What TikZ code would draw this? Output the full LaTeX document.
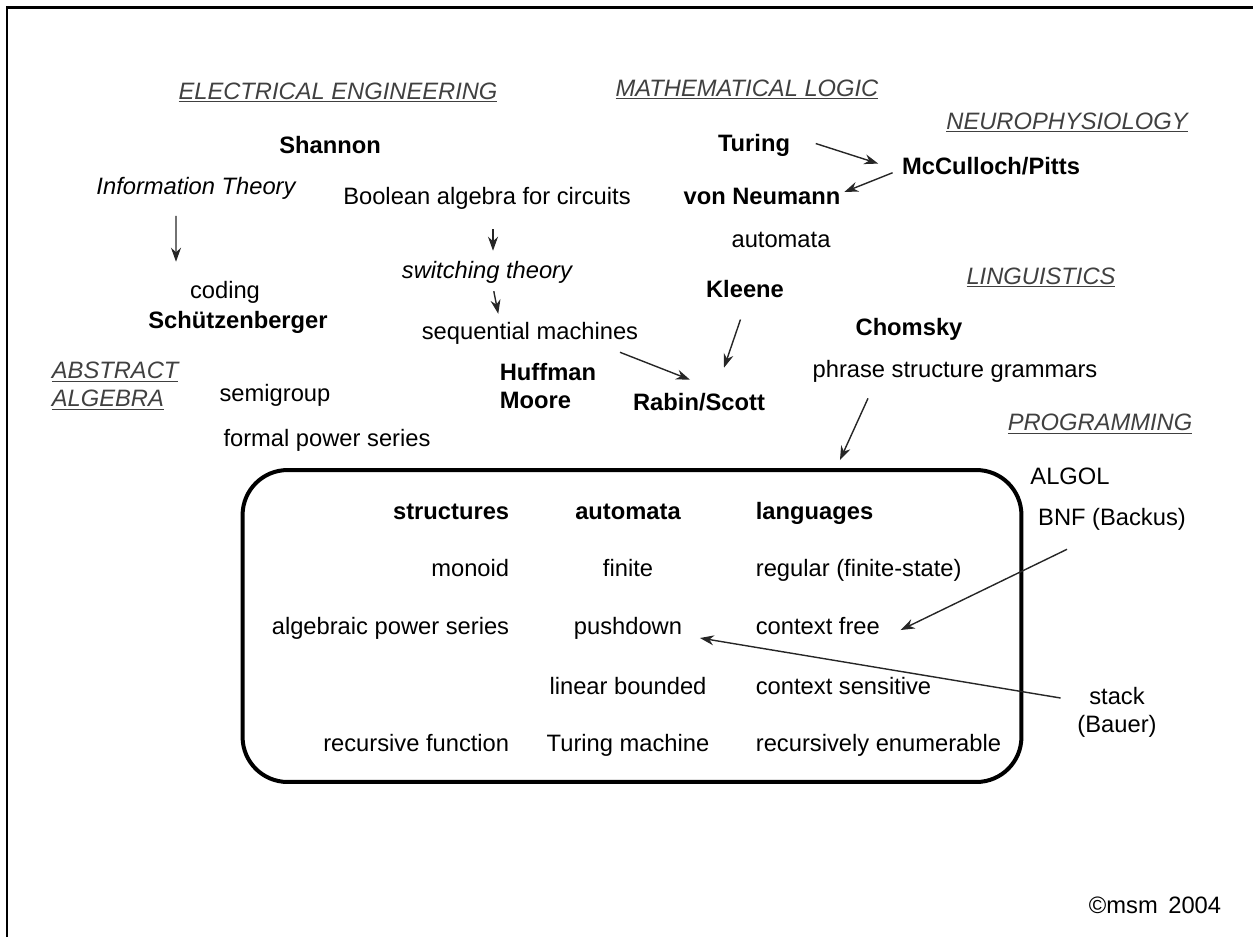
\documentclass[tikz,border=0pt]{standalone}
\usepackage{fontspec}
\setmainfont{Liberation Sans}
\usetikzlibrary{arrows.meta}

\begin{document}
\begin{tikzpicture}[x=0.02cm, y=-0.02cm,
    every node/.style={font=\fontsize{13.5}{16}\selectfont, inner sep=2pt, text height=10pt, text depth=3pt},
    twoline/.style={text height=, text depth=, align=left},
    field/.style={font=\fontsize{13.5}{16}\selectfont\itshape, text=black!75},
    person/.style={font=\fontsize{13.5}{16}\selectfont\bfseries},
    head/.style={font=\fontsize{13.5}{16}\selectfont\bfseries},
    arr/.style={-{Stealth[length=2.8mm, width=2mm]}, line width=0.8pt, draw=black!85}
]
\useasboundingbox (0,0) rectangle (1253,937);
\draw[line width=0.06cm] (7,937) -- (7,7) -- (1253,7);

% fields
\node[field] (ee)   at (338,93)  {\underline{ELECTRICAL ENGINEERING}};
\node[field] (ml)   at (747,90)  {\underline{MATHEMATICAL LOGIC}};
\node[field] (np)   at (1067,123) {\underline{NEUROPHYSIOLOGY}};
\node[field] (ling) at (1041,278) {\underline{LINGUISTICS}};
\node[field] (prog) at (1100,424) {\underline{PROGRAMMING}};
\node[field, twoline, anchor=west] (aa) at (48,386) {\underline{ABSTRACT}\\\underline{ALGEBRA}};

% people
\node[person] (shannon) at (330,147) {Shannon};
\node[person] (turing)  at (754,145) {Turing};
\node[person] (mcc)     at (991,168) {McCulloch/Pitts};
\node[person] (vonn)    at (762,198) {von Neumann};
\node[person] (kleene)  at (745,291) {Kleene};
\node[person] (schutz)  at (238,322) {Schützenberger};
\node[person] (chomsky) at (909,329) {Chomsky};
\node[person, twoline, anchor=west] (huffman) at (496,386) {Huffman\\Moore};
\node[person] (rabin)   at (699,404) {Rabin/Scott};

% topics
\node[font=\fontsize{13.5}{16}\selectfont\itshape] (infot) at (196,188) {Information Theory};
\node (boolean)   at (487,198) {Boolean algebra for circuits};
\node (automata)  at (781,241) {automata};
\node[font=\fontsize{13.5}{16}\selectfont\itshape] (switching) at (487,272) {switching theory};
\node (coding)    at (225,292) {coding};
\node (seqm)      at (530,333) {sequential machines};
\node (phrase)    at (955,371) {phrase structure grammars};
\node (semigroup) at (275,395) {semigroup};
\node (fps)       at (327,440) {formal power series};
\node (algol)     at (1070,478) {ALGOL};
\node (bnf)       at (1112,519) {BNF (Backus)};
\node[twoline, align=center] (stack) at (1117,712) {stack\\(Bauer)};
\node (copy)      at (1155,907) {\textcopyright msm\, 2004};

% the hierarchy
\node[draw, line width=0.08cm, rounded corners=0.9cm, minimum width=15.58cm, minimum height=6.24cm] (hier) at (632,626) {};

\node[head, anchor=east] (structs) at (513,513) {structures};
\node[head] (autos)  at (628,513) {automata};
\node[head, anchor=west] (langs) at (752,513) {languages};

\node[anchor=east] (monoid) at (513,570) {monoid};
\node (finite) at (628,570) {finite};
\node[anchor=west] (regular) at (752,570) {regular (finite-state)};

\node[anchor=east] (algps) at (513,628) {algebraic power series};
\node (pushdown) at (628,628) {pushdown};
\node[anchor=west] (ctxfree) at (752,628) {context free};

\node (linbd) at (628,688) {linear bounded};
\node[anchor=west] (ctxsens) at (752,688) {context sensitive};

\node[anchor=east] (recfun) at (513,745) {recursive function};
\node (turingm) at (628,745) {Turing machine};
\node[anchor=west] (recenum) at (752,745) {recursively enumerable};

% influences
\draw[arr, shorten <=0.25cm, shorten >=0.3cm] ([xshift=-0.4cm]infot.south) -- ([xshift=-0.98cm]coding.north);
\draw[arr, shorten <=0.32cm, shorten >=0.12cm] ([xshift=0.12cm]boolean.south) -- ([xshift=0.12cm]switching.north);
\draw[arr, shorten <=0.08cm, shorten >=0.08cm] ([xshift=0.12cm]switching.south) -- ([xshift=-0.62cm]seqm.north);
\draw[arr, shorten <=0.46cm, shorten >=0.42cm] ([yshift=0.17cm]turing.east) -- ([yshift=-0.04cm]mcc.west);
\draw[arr, shorten <=0.12cm] ([yshift=-0.05cm]mcc.west) -- ([yshift=0.12cm]vonn.east);
\draw[arr] ([xshift=-0.44cm, yshift=-0.08cm]seqm.south east) -- ([xshift=-0.18cm, yshift=0.18cm]rabin.north);
\draw[arr, shorten <=0.28cm] (kleene.south) -- ([xshift=0.5cm, yshift=0.42cm]rabin.north);
\draw[arr] ([xshift=-1.74cm, yshift=-0.24cm]phrase.south) -- ([xshift=4.16cm, yshift=0.16cm]hier.north);
\draw[arr] ([xshift=-0.9cm, yshift=-0.3cm]bnf.south) -- ([xshift=0.34cm, yshift=-0.04cm]ctxfree.east);
\draw[arr] ([xshift=-0.26cm, yshift=0.28cm]stack.west) -- ([xshift=0.28cm, yshift=-0.2cm]pushdown.east);

\end{tikzpicture}
\end{document}
